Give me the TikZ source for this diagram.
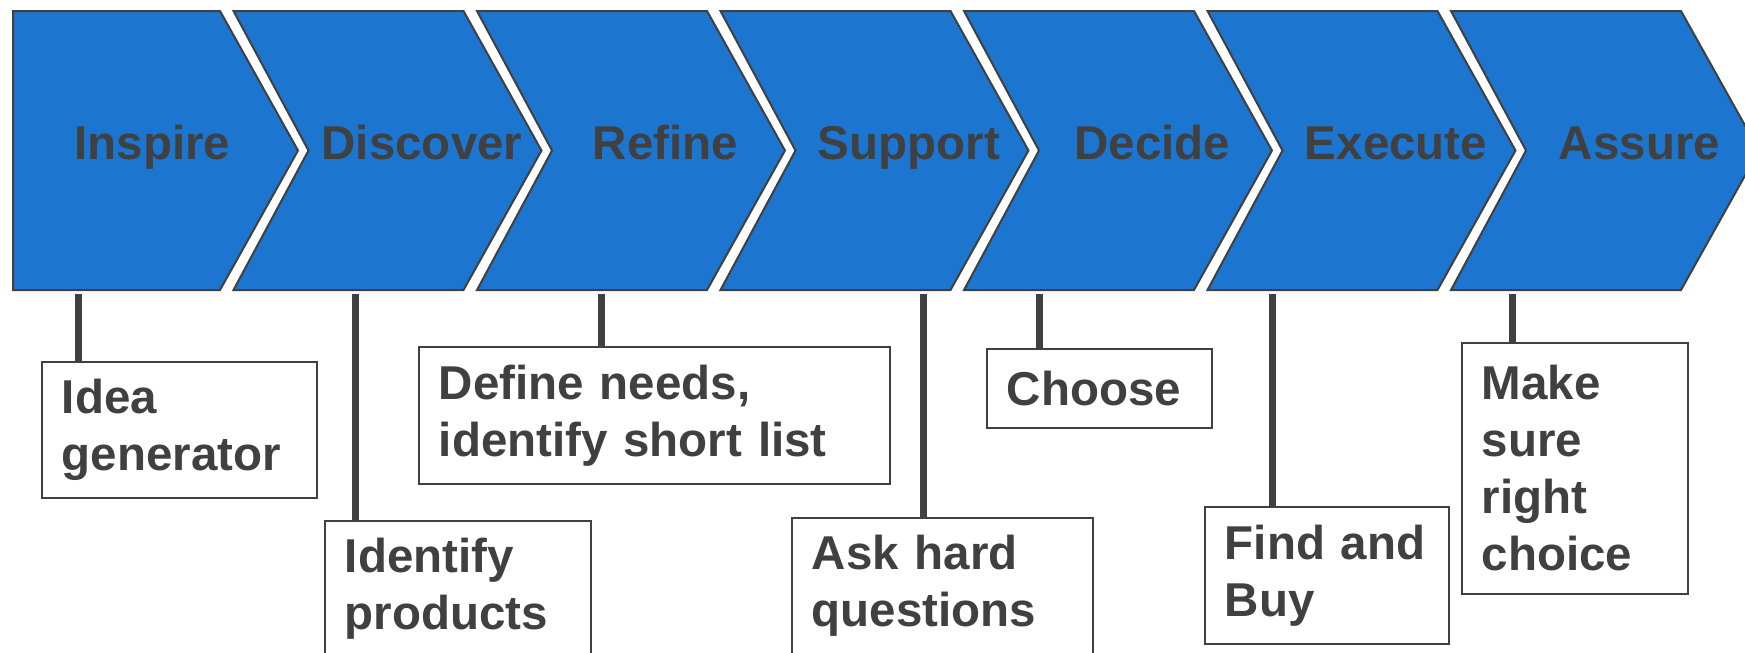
\documentclass[tikz,border=0pt]{standalone}
\usepackage{fontspec}
\setmainfont{Liberation Sans}
\usetikzlibrary{positioning}
\definecolor{chevblue}{RGB}{28,117,206}
\definecolor{inkgray}{RGB}{64,64,64}

\begin{document}
\begin{tikzpicture}[x=1pt, y=-1pt, font=\fontsize{47.5}{57}\selectfont\bfseries, text=inkgray, chevron/.style={fill=chevblue, draw=inkgray, line width=2pt, line join=miter}, phase/.style={inner sep=0pt, minimum height=279pt, text height=35pt, text depth=18pt}, note/.style={rectangle, draw=inkgray, line width=1.6pt, fill=white, align=left, anchor=north west, inner xsep=20pt, inner ysep=0pt}, link/.style={draw=inkgray, line width=7pt, shorten >=4pt}]
\useasboundingbox (0,0) rectangle (1745,653);

% the row of process chevrons
\foreach \name/\txt [count=\i] in {inspire/Inspire, discover/Discover, refine/Refine, support/Support, decide/Decide, execute/Execute, assure/Assure}{
  \pgfmathsetmacro\rgt{220+(\i-1)*243.5}
  \pgfmathsetmacro\lft{\i==1 ? 13 : \rgt-230}
  \pgfmathsetmacro\ntch{\i==1 ? 0 : 75}
  \draw[chevron] (\lft,11) -- (\rgt,11) -- (\rgt+78,150.5) -- (\rgt,290) -- (\lft,290) -- (\lft+\ntch,150.5) -- cycle;
  \node[phase] (\name) at ({(\lft+\ntch+\rgt+78)/2-3},150.5) {\txt};
}

% notes under each phase
\node[note, text width=235pt, minimum height=136pt] (idea) at (41,361) {Idea\\generator};
\node[note, text width=226pt, minimum height=136pt] (identify) at (324,520) {Identify\\products};
\node[note, text width=431pt, minimum height=137pt] (define) at (418,346) {Define needs,\\identify short list};
\node[note, text width=261pt, minimum height=136pt] (ask) at (791,517) {Ask hard\\questions};
\node[note, text width=185pt, minimum height=79pt] (choose) at (986,348) {Choose};
\node[note, text width=204pt, minimum height=137pt] (findbuy) at (1204,506) {Find and\\Buy};
\node[note, text width=186pt, minimum height=251pt] (makesure) at (1461,342) {Make\\sure\\right\\choice};

% stems from note up to its phase
\coordinate (l1) at ([xshift=37pt]idea.north west);
\coordinate (l2) at ([xshift=31pt]identify.north west);
\coordinate (l3) at ([xshift=183pt]define.north west);
\coordinate (l4) at ([xshift=132pt]ask.north west);
\coordinate (l5) at ([xshift=53pt]choose.north west);
\coordinate (l6) at ([xshift=68pt]findbuy.north west);
\coordinate (l7) at ([xshift=51pt]makesure.north west);
\draw[link] (l1) -- (l1 |- inspire.south);
\draw[link] (l2) -- (l2 |- discover.south);
\draw[link] (l3) -- (l3 |- refine.south);
\draw[link] (l4) -- (l4 |- support.south);
\draw[link] (l5) -- (l5 |- decide.south);
\draw[link] (l6) -- (l6 |- execute.south);
\draw[link] (l7) -- (l7 |- assure.south);
\end{tikzpicture}
\end{document}
